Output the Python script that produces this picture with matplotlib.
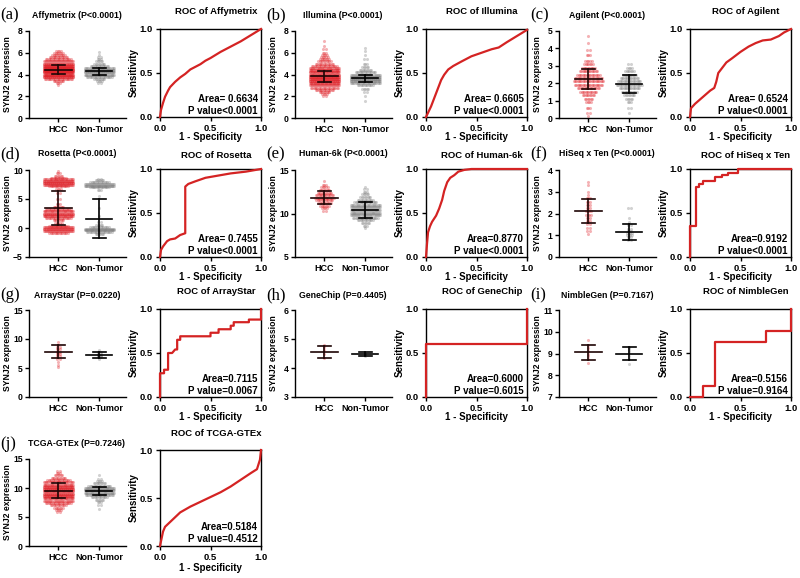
import matplotlib
matplotlib.use('Agg')
import matplotlib.pyplot as plt
import numpy as np

plt.rcParams['font.family'] = ['Liberation Sans', 'DejaVu Sans']
plt.rcParams['font.weight'] = 'bold'
plt.rcParams['axes.linewidth'] = 1.0

# ---- data ----
titles = ['Affymetrix', 'Illumina', 'Agilent', 'Rosetta', 'Human-6k', 'HiSeq x Ten',
          'ArrayStar', 'GeneChip', 'NimbleGen', 'TCGA-GTEx']
letters = ['(a)', '(b)', '(c)', '(d)', '(e)', '(f)', '(g)', '(h)', '(i)', '(j)']
pvals = ['P<0.0001', 'P<0.0001', 'P<0.0001', 'P<0.0001', 'P<0.0001', 'P<0.0001',
         'P=0.0220', 'P=0.4405', 'P=0.7167', 'P=0.7246']
areas = ['Area= 0.6634', 'Area= 0.6605', 'Area= 0.6524', 'Area= 0.7455', 'Area=0.8770',
         'Area=0.9192', 'Area=0.7115', 'Area=0.6000', 'Area=0.5156', 'Area=0.5184']
roc_p = ['P value<0.0001', 'P value<0.0001', 'P value<0.0001', 'P value<0.0001',
         'P value<0.0001', 'P value<0.0001', 'P value=0.0067', 'P value=0.6015',
         'P value=0.9164', 'P value=0.4512']
yticks = [[0, 2, 4, 6, 8], [0, 2, 4, 6, 8], [0, 1, 2, 3, 4, 5], [-5, 0, 5, 10], [5, 10, 15],
          [0, 1, 2, 3, 4], [0, 5, 10, 15], [3, 4, 5, 6], [7, 8, 9, 10, 11], [0, 5, 10, 15]]

# mean / SD of each group: hcc mean, hcc sd, non-tumor mean, non-tumor sd
stats = [[4.45, 0.42, 4.28, 0.28], [3.82, 0.48, 3.65, 0.33], [2.22, 0.57, 1.97, 0.51],
         [3.45, 2.95, 1.60, 3.35], [11.83, 0.78, 10.37, 0.92], [2.10, 0.55, 1.15, 0.38],
         [7.84, 1.15, 7.25, 0.50], [4.55, 0.20, 4.48, 0.07], [9.05, 0.35, 9.00, 0.30],
         [9.55, 1.25, 9.55, 0.70]]

# expression levels (rows of dots) and number of dots per row
affy_hcc_lv = [3.0, 3.2, 3.4, 3.6, 3.8, 4.0, 4.2, 4.4, 4.6, 4.8, 5.0, 5.2, 5.4, 5.6, 5.8, 6.0, 6.2]
affy_hcc_n = [1, 3, 8, 22, 45, 65, 80, 85, 75, 60, 45, 30, 20, 14, 10, 7, 4]
affy_nt_lv = [3.2, 3.4, 3.6, 3.8, 4.0, 4.2, 4.4, 4.6, 4.8, 5.0, 5.2, 5.4, 5.6, 5.8, 6.1]
affy_nt_n = [2, 4, 8, 20, 35, 45, 40, 25, 14, 8, 5, 3, 2, 1, 1]

illu_hcc_lv = [2.0, 2.2, 2.4, 2.6, 2.8, 3.0, 3.2, 3.4, 3.6, 3.8, 4.0, 4.2, 4.4, 4.6, 4.8, 5.0,
               5.2, 5.4, 5.6, 5.8, 6.0, 6.3, 6.6, 7.1]
illu_hcc_n = [2, 4, 8, 14, 22, 30, 38, 45, 50, 52, 48, 42, 35, 27, 20, 14, 10, 7, 5, 4, 3, 2, 1, 1]
illu_nt_lv = [1.6, 2.0, 2.4, 2.7, 3.0, 3.2, 3.4, 3.6, 3.8, 4.0, 4.2, 4.4, 4.7, 5.0, 5.4, 5.8, 6.2, 6.4]
illu_nt_n = [1, 1, 2, 5, 12, 25, 38, 45, 40, 28, 16, 9, 5, 3, 2, 1, 1, 1]

agil_hcc_lv = [0.1, 0.3, 0.6, 0.9, 1.1, 1.3, 1.5, 1.7, 1.9, 2.1, 2.3, 2.5, 2.7, 2.9, 3.1, 3.3,
               3.6, 3.9, 4.3, 4.7]
agil_hcc_n = [1, 2, 3, 4, 6, 9, 13, 17, 22, 24, 22, 18, 14, 10, 7, 5, 3, 2, 1, 1]
agil_nt_lv = [0.3, 0.6, 0.9, 1.1, 1.3, 1.5, 1.7, 1.9, 2.1, 2.3, 2.5, 2.7, 2.9, 3.1]
agil_nt_n = [1, 2, 3, 5, 8, 12, 16, 20, 18, 14, 10, 7, 4, 2]

rose_hcc_lv = [-0.8, -0.5, -0.2, 0.1, 0.4, 0.8, 1.3, 1.7, 2.1, 2.5, 2.9, 3.3, 3.7, 4.2, 5.0,
               6.0, 6.8, 7.2, 7.5, 7.8, 8.1, 8.4, 8.7, 9.0, 9.4, 9.8]
rose_hcc_n = [15, 30, 40, 30, 15, 5, 8, 20, 35, 45, 35, 20, 8, 3, 2, 2, 4, 15, 30, 45, 40, 25, 12, 6, 3, 1]
rose_nt_lv = [-1.0, -0.7, -0.4, -0.1, 0.2, 0.5, 1.0, 2.0, 3.5, 5.5, 6.6, 7.0, 7.3, 7.6, 7.9, 8.2, 8.5]
rose_nt_n = [6, 20, 35, 30, 15, 5, 2, 1, 1, 1, 3, 15, 35, 30, 15, 6, 2]

h6k_hcc_lv = [10.3, 10.6, 10.9, 11.2, 11.5, 11.8, 12.1, 12.4, 12.7, 13.0, 13.3, 13.7]
h6k_hcc_n = [2, 4, 7, 10, 13, 15, 14, 11, 8, 5, 3, 1]
h6k_nt_lv = [8.3, 8.6, 8.9, 9.2, 9.5, 9.8, 10.1, 10.4, 10.7, 11.0, 11.3, 11.6, 11.9, 12.2,
             12.5, 12.8, 13.0]
h6k_nt_n = [1, 3, 6, 12, 20, 28, 32, 33, 30, 25, 18, 12, 8, 5, 3, 2, 1]

hiseq_hcc_lv = [1.05, 1.2, 1.35, 1.5, 1.65, 1.8, 1.95, 2.1, 2.25, 2.4, 2.55, 2.7, 2.85, 3.0, 3.3, 3.45]
hiseq_hcc_n = [1, 2, 2, 2, 3, 3, 4, 4, 3, 3, 3, 3, 1, 1, 1, 1]
hiseq_nt_lv = [0.8, 0.9, 1.0, 1.1, 1.2, 1.3, 1.45, 1.6, 1.8, 2.25]
hiseq_nt_n = [2, 3, 4, 4, 3, 2, 2, 1, 1, 2]

astar_hcc_lv = [5.2, 5.5, 6.0, 6.5, 7.0, 7.4, 7.8, 8.2, 8.6, 9.0, 9.4]
astar_hcc_n = [1, 1, 1, 2, 2, 3, 3, 3, 2, 1, 1]
astar_nt_lv = [6.6, 6.9, 7.1, 7.3, 7.5, 7.8, 8.1]
astar_nt_n = [1, 2, 3, 3, 2, 2, 1]

gchip_hcc_lv = [4.35, 4.5, 4.62, 4.72, 4.8]
gchip_hcc_n = [1, 1, 1, 1, 1]
gchip_nt_lv = [4.42, 4.46, 4.5, 4.53]
gchip_nt_n = [1, 1, 1, 1]

nimb_hcc_lv = [8.55, 8.75, 8.9, 9.0, 9.1, 9.25, 9.4, 9.6]
nimb_hcc_n = [1, 1, 1, 1, 1, 1, 1, 1]
nimb_nt_lv = [8.5, 8.75, 8.9, 9.05, 9.15, 9.25, 9.3]
nimb_nt_n = [1, 1, 1, 1, 1, 1, 1]

tcga_hcc_lv = [5.8, 6.2, 6.6, 7.0, 7.4, 7.8, 8.2, 8.6, 9.0, 9.4, 9.8, 10.2, 10.6, 11.0, 11.4,
               11.8, 12.2, 12.6, 13.0]
tcga_hcc_n = [2, 4, 7, 12, 20, 28, 36, 42, 46, 48, 46, 42, 35, 26, 18, 11, 6, 3, 2]
tcga_nt_lv = [6.3, 7.0, 7.6, 8.0, 8.4, 8.8, 9.2, 9.6, 10.0, 10.4, 10.8, 11.2, 11.6, 12.2]
tcga_nt_n = [1, 2, 3, 6, 12, 22, 35, 40, 32, 18, 9, 4, 2, 1]

# ROC curves (1 - specificity, sensitivity)
affy_fpr = [0, 0.01, 0.03, 0.05, 0.08, 0.1, 0.15, 0.2, 0.25, 0.3, 0.35, 0.4, 0.45, 0.5, 0.6, 0.7, 0.8, 0.9, 1]
affy_tpr = [0, 0.08, 0.16, 0.23, 0.3, 0.34, 0.4, 0.45, 0.49, 0.54, 0.57, 0.6, 0.64, 0.67, 0.74, 0.8, 0.86, 0.93, 1]
illu_fpr = [0, 0.05, 0.1, 0.15, 0.18, 0.22, 0.27, 0.35, 0.45, 0.55, 0.65, 0.72, 0.8, 0.9, 1]
illu_tpr = [0, 0.12, 0.27, 0.42, 0.48, 0.54, 0.58, 0.63, 0.69, 0.73, 0.77, 0.79, 0.85, 0.92, 0.99]
agil_fpr = [0, 0.01, 0.05, 0.1, 0.15, 0.2, 0.24, 0.26, 0.28, 0.32, 0.36, 0.42, 0.5, 0.58, 0.65, 0.72,
            0.8, 0.88, 0.93, 1]
agil_tpr = [0, 0.1, 0.15, 0.2, 0.25, 0.3, 0.33, 0.4, 0.5, 0.56, 0.62, 0.67, 0.74, 0.8, 0.84, 0.87,
            0.88, 0.92, 0.96, 1]
rose_fpr = [0, 0.01, 0.03, 0.07, 0.1, 0.15, 0.2, 0.25, 0.25, 0.28, 0.35, 0.45, 0.55, 0.7, 0.85, 1]
rose_tpr = [0, 0.08, 0.12, 0.18, 0.2, 0.21, 0.25, 0.27, 0.8, 0.83, 0.86, 0.9, 0.92, 0.95, 0.97, 1]
h6k_fpr = [0, 0.01, 0.02, 0.04, 0.06, 0.1, 0.13, 0.16, 0.18, 0.21, 0.24, 0.28, 0.32, 0.38, 0.45, 1]
h6k_tpr = [0, 0.15, 0.28, 0.35, 0.4, 0.47, 0.55, 0.65, 0.75, 0.85, 0.9, 0.93, 0.97, 0.99, 1.0, 1.0]
hiseq_fpr = [0, 0, 0.06, 0.06, 0.09, 0.09, 0.13, 0.13, 0.25, 0.25, 0.32, 0.32, 0.38, 0.38, 0.48, 0.48, 1]
hiseq_tpr = [0, 0.35, 0.35, 0.8, 0.8, 0.83, 0.83, 0.86, 0.86, 0.91, 0.91, 0.93, 0.93, 0.96, 0.96, 1.0, 1.0]
astar_fpr = [0, 0, 0.04, 0.04, 0.08, 0.08, 0.12, 0.15, 0.17, 0.17, 0.2, 0.2, 0.5, 0.5, 0.58, 0.58,
             0.7, 0.7, 0.73, 0.73, 0.88, 0.88, 1, 1]
astar_tpr = [0, 0.27, 0.27, 0.31, 0.31, 0.5, 0.5, 0.54, 0.54, 0.65, 0.65, 0.69, 0.69, 0.73, 0.73, 0.77,
             0.77, 0.81, 0.81, 0.85, 0.85, 0.88, 0.88, 1]
gchip_fpr = [0, 0, 1, 1]
gchip_tpr = [0, 0.6, 0.6, 1]
nimb_fpr = [0, 0.125, 0.125, 0.25, 0.25, 0.75, 0.75, 1, 1]
nimb_tpr = [0, 0, 0.125, 0.125, 0.625, 0.625, 0.75, 0.75, 1]
tcga_fpr = [0, 0.01, 0.03, 0.05, 0.1, 0.15, 0.2, 0.3, 0.4, 0.5, 0.6, 0.7, 0.8, 0.9, 0.96, 0.99, 1]
tcga_tpr = [0, 0.05, 0.15, 0.2, 0.25, 0.3, 0.35, 0.41, 0.46, 0.51, 0.56, 0.62, 0.69, 0.76, 0.8, 0.9, 1]

hcc_lv = [affy_hcc_lv, illu_hcc_lv, agil_hcc_lv, rose_hcc_lv, h6k_hcc_lv, hiseq_hcc_lv,
          astar_hcc_lv, gchip_hcc_lv, nimb_hcc_lv, tcga_hcc_lv]
hcc_n = [affy_hcc_n, illu_hcc_n, agil_hcc_n, rose_hcc_n, h6k_hcc_n, hiseq_hcc_n,
         astar_hcc_n, gchip_hcc_n, nimb_hcc_n, tcga_hcc_n]
nt_lv = [affy_nt_lv, illu_nt_lv, agil_nt_lv, rose_nt_lv, h6k_nt_lv, hiseq_nt_lv,
         astar_nt_lv, gchip_nt_lv, nimb_nt_lv, tcga_nt_lv]
nt_n = [affy_nt_n, illu_nt_n, agil_nt_n, rose_nt_n, h6k_nt_n, hiseq_nt_n,
        astar_nt_n, gchip_nt_n, nimb_nt_n, tcga_nt_n]
fprs = [affy_fpr, illu_fpr, agil_fpr, rose_fpr, h6k_fpr, hiseq_fpr, astar_fpr, gchip_fpr, nimb_fpr, tcga_fpr]
tprs = [affy_tpr, illu_tpr, agil_tpr, rose_tpr, h6k_tpr, hiseq_tpr, astar_tpr, gchip_tpr, nimb_tpr, tcga_tpr]

RED = '#d42323'
W, H = 800, 578
fig = plt.figure(figsize=(8, 5.78), dpi=100)


def box(l, t, r, b):
    return [l / W, 1 - b / H, (r - l) / W, (b - t) / H]


def dots(ax, x0, levels, counts, color):
    # lay each row of dots side by side around the category position
    for lv, n in zip(levels, counts):
        w = min(n * 0.03, 0.72)
        offs = [0.0] if n == 1 else np.linspace(-w / 2, w / 2, n)
        ax.scatter(x0 + np.asarray(offs), [lv] * len(offs), s=5, color=color,
                   alpha=0.35, linewidths=0, zorder=2)


def errbar(ax, x0, m, sd, color):
    ax.plot([x0 - 0.32, x0 + 0.32], [m, m], color=color, lw=1.2, zorder=3)
    ax.plot([x0, x0], [m - sd, m + sd], color=color, lw=1.2, zorder=3)
    for v in (m - sd, m + sd):
        ax.plot([x0 - 0.16, x0 + 0.16], [v, v], color=color, lw=1.2, zorder=3)


col_x = [0, 266, 530]
sc_rows = [(31, 118), (170, 257), (310, 397), (459, 546)]
roc_rows = [(29, 117), (169, 257), (309, 397), (450, 546)]
sc_title_y = [15, 154, 295, 444]
roc_title_y = [12, 155, 291, 434]
xlab_y = [137, 277, 417, 568]

for i in range(10):
    r, c = i // 3, i % 3
    g = col_x[c]
    st, sb = sc_rows[r]
    rt, rb = roc_rows[r]

    # dot plot
    ax = fig.add_axes(box(g + 29, st, g + 126, sb))
    dots(ax, 0, hcc_lv[i], hcc_n[i], '#e0242b')
    dots(ax, 1, nt_lv[i], nt_n[i], '#808080')
    hm, hs, nm, ns = stats[i]
    errbar(ax, 0, hm, hs, '#1e0505')
    errbar(ax, 1, nm, ns, 'black')
    ax.set_xlim(-0.72, 1.65)
    ax.set_ylim(yticks[i][0], yticks[i][-1])
    ax.set_yticks(yticks[i])
    ax.set_xticks([0, 1])
    ax.set_xticklabels(['HCC', 'Non-Tumor'])
    ax.spines['top'].set_visible(False)
    ax.spines['right'].set_visible(False)
    ax.tick_params(labelsize=6.5, length=3, width=1, pad=2)
    ax.tick_params(axis='y', labelsize=6.2, pad=1.5)
    fig.text((g + 77) / W, 1 - sc_title_y[r] / H, titles[i] + ' (' + pvals[i] + ')',
             ha='center', va='center', fontsize=6.3)
    fig.text((g + 8) / W, 1 - (st + sb) / 2 / H, 'SYNJ2 expression', rotation=90,
             ha='center', va='center', fontsize=6.2)
    fig.text((g + 0) / W, 1 - sc_title_y[r] / H, letters[i], ha='left', va='center',
             fontsize=12, fontweight='normal', family='Liberation Serif')

    # ROC curve
    ax2 = fig.add_axes(box(g + 160, rt, g + 261, rb))
    ax2.plot(fprs[i], tprs[i], color=RED, lw=1.6, zorder=3, clip_on=False)
    ax2.set_xlim(0, 1)
    ax2.set_ylim(0, 1)
    ax2.set_xticks([0, 0.5, 1])
    ax2.set_yticks([0, 0.5, 1])
    ax2.set_xticklabels(['0.0', '0.5', '1.0'])
    ax2.set_yticklabels(['0.0', '0.5', '1.0'])
    ax2.tick_params(labelsize=6.8, length=3, width=1, pad=2)
    ax2.text(0.97, 0.2, areas[i], transform=ax2.transAxes, ha='right', va='center', fontsize=7)
    ax2.text(0.97, 0.07, roc_p[i], transform=ax2.transAxes, ha='right', va='center', fontsize=7)
    fig.text((g + 216) / W, 1 - roc_title_y[r] / H, 'ROC of ' + titles[i],
             ha='center', va='center', fontsize=6.8)
    fig.text((g + 134) / W, 1 - (rt + rb) / 2 / H, 'Sensitivity', rotation=90,
             ha='center', va='center', fontsize=7)
    fig.text((g + 210) / W, 1 - xlab_y[r] / H, '1 - Specificity',
             ha='center', va='center', fontsize=7)

fig.savefig('out.png', dpi=100)
